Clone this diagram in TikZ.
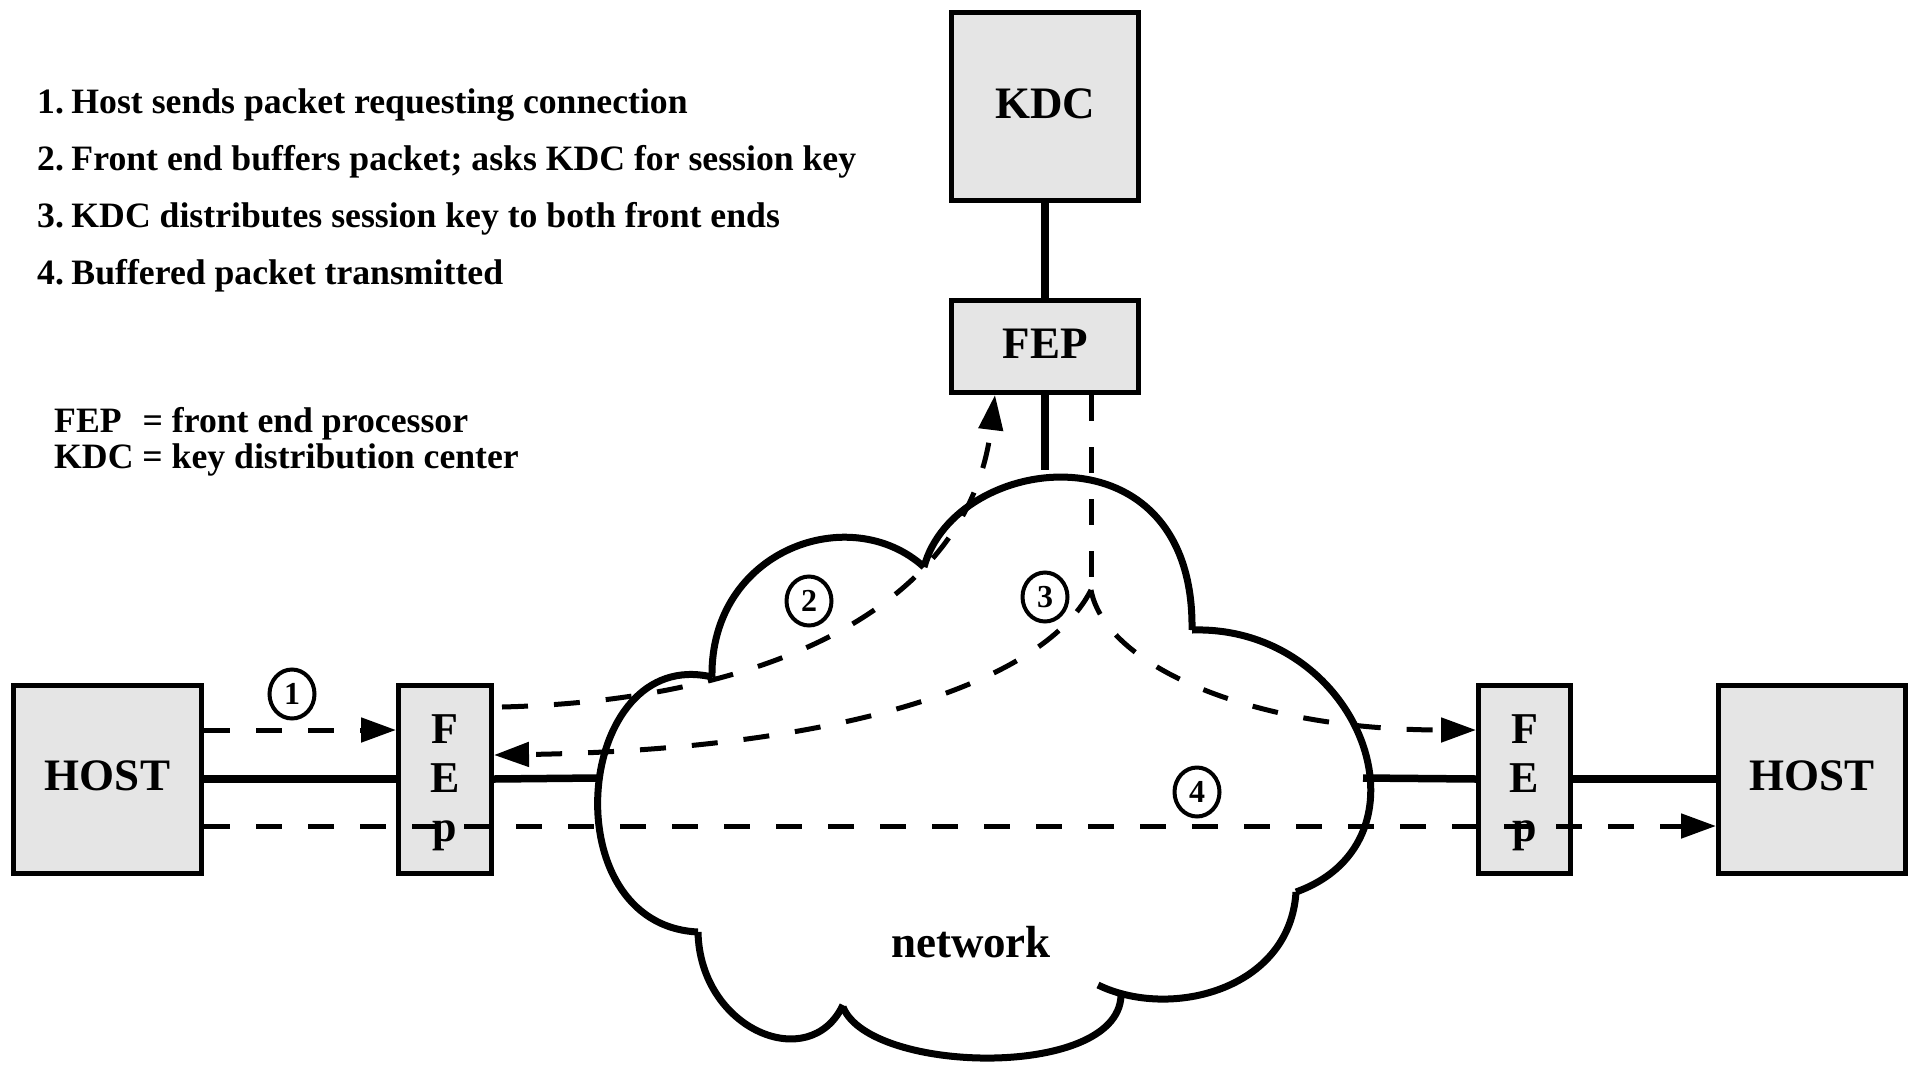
\documentclass[tikz,border=0pt]{standalone}
\usepackage{fontspec}
\setmainfont{Liberation Serif}
\usetikzlibrary{arrows.meta,shapes.geometric}
\definecolor{boxgray}{RGB}{229,229,229}
\begin{document}
\begin{tikzpicture}[x=1pt,y=-1pt,
  box/.style={draw,line width=5pt,fill=boxgray,inner sep=0pt,
    font=\bfseries\fontsize{45}{49}\selectfont,text height=27pt,text depth=4pt},
  vbox/.style={draw,line width=5pt,fill=boxgray,inner sep=0pt},
  vtext/.style={align=center,inner sep=0pt,yshift=-4pt,font=\bfseries\fontsize{44}{49}\selectfont},
  legend/.style={anchor=base west,inner sep=0pt,font=\bfseries\fontsize{35.7}{40}\selectfont},
  numlabel/.style={ellipse,draw,line width=4pt,minimum width=45pt,minimum height=49pt,
    inner sep=0pt,font=\bfseries\fontsize{32}{34}\selectfont},
  link/.style={line width=7.5pt},
  cloudline/.style={line width=7pt},
  flow/.style={line width=5pt,dash pattern=on 26pt off 26pt},
  tip/.style={-{Triangle[length=35pt,width=24pt]}}
]
\useasboundingbox (0,0) rectangle (1917,1066);

% legend
\node[legend] (l1) at (37,113.5) {1.\hspace{7.5pt}Host sends packet requesting connection};
\node[legend] (l2) at (37,170.5) {2.\hspace{7.5pt}Front end buffers packet; asks KDC for session key};
\node[legend] (l3) at (37,227.5) {3.\hspace{7.5pt}KDC distributes session key to both front ends};
\node[legend] (l4) at (37,284.5) {4.\hspace{7.5pt}Buffered packet transmitted};
\node[legend] (d1) at (54,432) {FEP\hspace{21pt}= front end processor};
\node[legend] (d2) at (54,468) {KDC = key distribution center};

% boxes
\node[box,minimum width=187pt,minimum height=188pt] (kdc) at (1045,106.5) {KDC};
\node[box,minimum width=187pt,minimum height=92pt] (fept) at (1045,346.5) {FEP};
\node[box,minimum width=188pt,minimum height=188pt] (hostl) at (107.5,779) {HOST};
\node[vbox,minimum width=93pt,minimum height=188pt,
  label={[vtext]center:F\\E\\p}] (fepl) at (445,779) {};
\node[vbox,minimum width=92pt,minimum height=188pt,
  label={[vtext]center:F\\E\\p}] (fepr) at (1524.5,779) {};
\node[box,minimum width=187pt,minimum height=188pt] (hostr) at (1812,779) {HOST};

% cloud
\begin{scope}[cloudline]
\draw (924,567) .. controls (955,452) and (1195,422) .. (1192,630);
\draw (1192,630) .. controls (1360,625) and (1440,840) .. (1296,892);
\draw (1296,892) .. controls (1290,990) and (1170,1020) .. (1098,985);
\draw (1121,992) .. controls (1125,1080) and (870,1075) .. (843,1007);
\draw (843,1005) .. controls (810,1075) and (700,1030) .. (698,932);
\draw (698,932) .. controls (550,925) and (575,645) .. (712,677);
\draw (712,677) .. controls (710,550) and (850,500) .. (924,567);
\end{scope}
\node[anchor=base,inner sep=0pt,font=\bfseries\fontsize{45}{49}\selectfont] (net) at (971,957) {network};

\coordinate (cloudL) at (597,778);
\coordinate (cloudR) at (1363,778);
\coordinate (cloudT) at (1045,470);
\coordinate (J) at (1091,590);

% solid links
\draw[link] (kdc.south) -- (fept.north);
\draw[link] (fept.south) -- (cloudT);
\draw[link] (hostl.east) -- (fepl.west);
\draw[link] (fepl.east) -- (cloudL);
\draw[link] (cloudR) -- (fepr.west);
\draw[link] (fepr.east) -- (hostr.west);

% dashed flows
\draw[flow,tip] ([yshift=49pt]hostl.east) -- ([yshift=49pt]fepl.west);
\draw[flow,tip] ([xshift=8pt,yshift=72pt]fepl.east) .. controls (780,700) and (970,600) .. ([xshift=-50pt]fept.south);
\draw[flow] ([xshift=46pt]fept.south) -- (J);
\draw[flow,tip] (J) .. controls (1040,690) and (820,750) .. ([yshift=24pt]fepl.east);
\draw[flow,tip] (J) .. controls (1105,665) and (1250,730) .. ([yshift=49pt]fepr.west);
\draw[flow,tip] ([yshift=-47pt]hostl.east) -- ([yshift=-47pt]hostr.west);

% step labels
\node[numlabel] (n1) at (292,694) {1};
\node[numlabel] (n2) at (809,601) {2};
\node[numlabel] (n3) at (1045,597) {3};
\node[numlabel] (n4) at (1197,792) {4};
\end{tikzpicture}
\end{document}
